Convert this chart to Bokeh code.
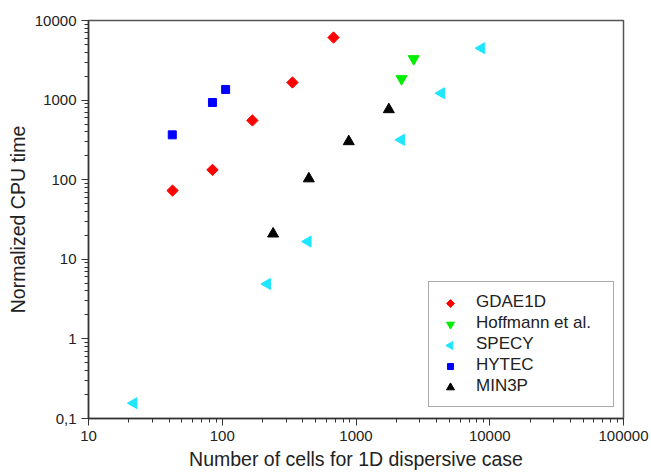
import math
from bokeh.plotting import figure
from bokeh.models import (Legend, LegendItem, CustomJSTickFormatter, Range1d,
                          LinearScale)
from bokeh.embed import file_html
from bokeh.resources import INLINE

# ---- data ----
gdae_x = [42.5, 84.5, 168, 335, 679]
gdae_y = [73, 133, 555, 1665, 6110]

hoff_x = [2190, 2700]
hoff_y = [1850, 3300]

specy_x = [21.8, 217, 437, 2180, 4350, 8670]
specy_y = [0.156, 4.9, 16.7, 317, 1220, 4490]

hytec_x = [42.3, 84.5, 106]
hytec_y = [366, 933, 1360]

min3p_x = [240, 444, 883, 1760]
min3p_y = [20.9, 103, 302, 762]

series_names = ["GDAE1D", "Hoffmann et al.", "SPECY", "HYTEC", "MIN3P"]

FONT = "Liberation Sans"
W, H = 651, 473
BL, BR, BT, BB = 88, 28, 20, 55
FW, FH = W - BL - BR, H - BT - BB

p = figure(width=W, height=H, x_axis_type="log", y_axis_type="log",
           x_range=Range1d(10, 100000), y_range=Range1d(0.1, 10000),
           output_backend="svg", toolbar_location=None,
           min_border_left=BL, min_border_right=BR, min_border_top=BT,
           min_border_bottom=BB)
p.xgrid.visible = False
p.ygrid.visible = False
p.outline_line_color = "#555555"
p.outline_line_width = 1.5
p.background_fill_color = "white"
p.border_fill_color = "white"

# pixel-space ranges for legend symbols
p.extra_x_ranges = {"px": Range1d(0, FW)}
p.extra_y_ranges = {"py": Range1d(0, FH)}
p.extra_x_scales = {"px": LinearScale()}
p.extra_y_scales = {"py": LinearScale()}

styles = [
    dict(marker="square", angle=math.pi / 4, size=8, lsize=5.5, color="#FF0000"),
    dict(marker="inverted_triangle", angle=0.0, size=11, lsize=8, color="#00EE00"),
    dict(marker="triangle", angle=math.pi / 2, size=11, lsize=8, color="#1EE6FF"),
    dict(marker="square", angle=0.0, size=8, lsize=6, color="#0000FF"),
    dict(marker="triangle", angle=0.0, size=11, lsize=8, color="#000000"),
]
xs = [gdae_x, hoff_x, specy_x, hytec_x, min3p_x]
ys = [gdae_y, hoff_y, specy_y, hytec_y, min3p_y]

# legend geometry
LEG_X, LEG_Y = 340, 11
PAD, GW, ROWH, SP = 10, 24, 20, 1

items = []
n = len(series_names)
for i, (name, st, x, y) in enumerate(zip(series_names, styles, xs, ys)):
    p.scatter(x, y, marker=st["marker"], angle=st["angle"], size=st["size"],
              fill_color=st["color"], line_color=st["color"])
    dummy = p.scatter(x=[], y=[], marker="square", size=1,
                      fill_alpha=0, line_alpha=0)
    items.append(LegendItem(label=name, renderers=[dummy]))
    gx = LEG_X + PAD + GW / 2
    gy = LEG_Y + PAD + (n - 1 - i) * (ROWH + SP) + ROWH / 2
    p.scatter([gx], [gy], marker=st["marker"], angle=st["angle"], size=st["lsize"],
              fill_color=st["color"], line_color=st["color"],
              x_range_name="px", y_range_name="py")

for ax in (p.xaxis[0], p.yaxis[0]):
    ax.axis_line_color = "#333333"
    ax.axis_line_width = 1.5
    ax.major_tick_line_color = "#333333"
    ax.minor_tick_line_color = "#333333"
    ax.major_tick_out = 7
    ax.major_tick_in = 0
    ax.minor_tick_out = 4
    ax.minor_tick_in = 0
    ax.major_label_text_font = FONT
    ax.major_label_text_font_size = "15px"
    ax.major_label_text_color = "#222222"
    ax.axis_label_text_font = FONT
    ax.axis_label_text_font_size = "19.5px"
    ax.axis_label_text_font_style = "normal"
    ax.axis_label_text_color = "#222222"
    ax.major_label_standoff = 5
    ax.formatter = CustomJSTickFormatter(code="""
        if (tick < 1) { return tick.toFixed(1).replace('.', ','); }
        return Math.round(tick).toString();
    """)

p.xaxis.axis_label = "Number of cells for 1D dispersive case"
p.yaxis.axis_label = "Normalized CPU time"
p.xaxis.axis_label_standoff = 4
p.yaxis.axis_label_standoff = 3

legend = Legend(items=items, location=(LEG_X, LEG_Y))
legend.label_text_font = FONT
legend.label_text_font_size = "17px"
legend.label_text_color = "#222222"
legend.glyph_width = GW
legend.glyph_height = ROWH
legend.label_height = ROWH
legend.label_width = 127
legend.label_standoff = 13
legend.spacing = SP
legend.padding = PAD
legend.margin = 0
legend.border_line_color = "#555555"
legend.border_line_width = 1.2
legend.background_fill_alpha = 0
p.add_layout(legend, "center")

open("out.html", "w").write(file_html(p, INLINE))
